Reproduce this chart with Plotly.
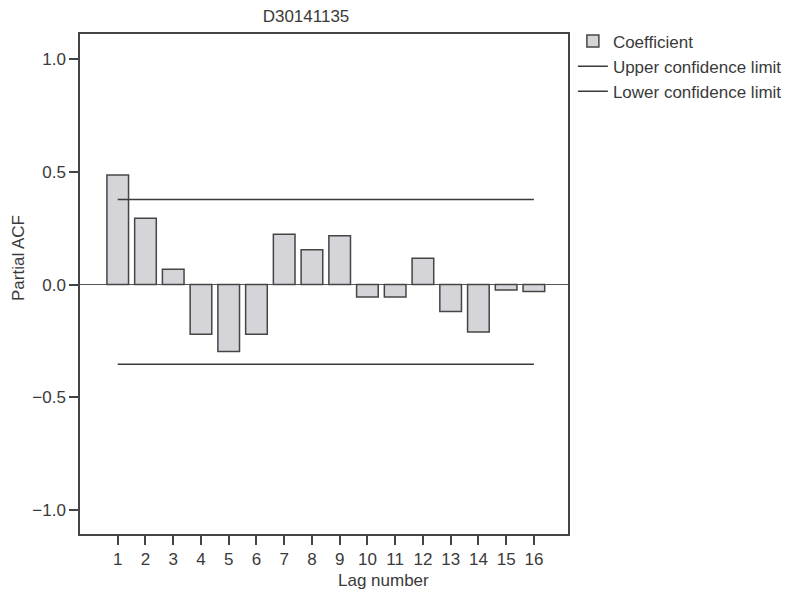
import plotly.graph_objects as go

# Partial autocorrelation by lag
lags = list(range(1, 17))
pacf = [0.486, 0.294, 0.068, -0.22, -0.297, -0.22, 0.223, 0.155,
        0.217, -0.055, -0.055, 0.117, -0.12, -0.21, -0.024, -0.031]
upper_limit = 0.377
lower_limit = -0.354

y_ticks = [-1.0, -0.5, 0.0, 0.5, 1.0]
y_tick_text = ["\u22121.0", "\u22120.5", "0.0", "0.5", "1.0"]

ink = "#3a3a3a"
fsize = 17
font = dict(family="Liberation Sans, Arial, sans-serif", size=fsize, color=ink)

fig = go.Figure()
fig.add_trace(go.Bar(
    x=lags, y=pacf, width=0.78, name="Coefficient",
    marker=dict(color="#d4d4d9", line=dict(color="#454545", width=1.5)),
))
fig.add_trace(go.Scatter(
    x=[lags[0], lags[-1]], y=[upper_limit, upper_limit], mode="lines",
    name="Upper confidence limit", line=dict(color="#3a3a3a", width=1.5),
))
fig.add_trace(go.Scatter(
    x=[lags[0], lags[-1]], y=[lower_limit, lower_limit], mode="lines",
    name="Lower confidence limit", line=dict(color="#3a3a3a", width=1.5),
))

fig.update_layout(
    width=803, height=594,
    margin=dict(l=80, r=235, t=34, b=60),
    paper_bgcolor="white", plot_bgcolor="white",
    font=font,
    title=dict(text="D30141135", x=306 / 803, xanchor="center", xref="container",
               y=1 - 16 / 594, yanchor="middle", yref="container",
               font=dict(size=fsize, color=ink)),
    showlegend=True,
    legend=dict(x=1.01, y=1.021, xanchor="left", yanchor="top",
                bgcolor="rgba(0,0,0,0)", font=dict(size=fsize, color=ink),
                tracegroupgap=0, itemwidth=30),
    bargap=0.2,
)
fig.update_xaxes(
    range=[-0.36, 17.23], tickvals=lags, ticktext=[str(v) for v in lags],
    ticks="outside", ticklen=9, tickcolor="#444", tickwidth=1.5,
    showline=True, linecolor="#444", linewidth=1.5, mirror=True,
    showgrid=False, zeroline=False, fixedrange=True,
)
fig.update_yaxes(
    range=[-1.107, 1.112], tickvals=y_ticks, ticktext=y_tick_text,
    ticks="outside", ticklen=9, tickcolor="#444", tickwidth=1.5,
    showline=True, linecolor="#444", linewidth=1.5, mirror=True,
    showgrid=False, zeroline=True, zerolinecolor="#555", zerolinewidth=1.2,
)

# Axis titles placed as annotations
fig.add_annotation(text="Lag number", xref="paper", yref="paper",
                   x=(383 - 80) / 488, y=-46 / 500, xanchor="center", yanchor="middle",
                   showarrow=False, font=dict(size=fsize, color=ink))
fig.add_annotation(text="Partial ACF", xref="paper", yref="paper",
                   x=-62 / 488, y=(534 - 258) / 500, xanchor="center", yanchor="middle",
                   textangle=-90, showarrow=False, font=dict(size=fsize, color=ink))

fig.write_html("out.html")
